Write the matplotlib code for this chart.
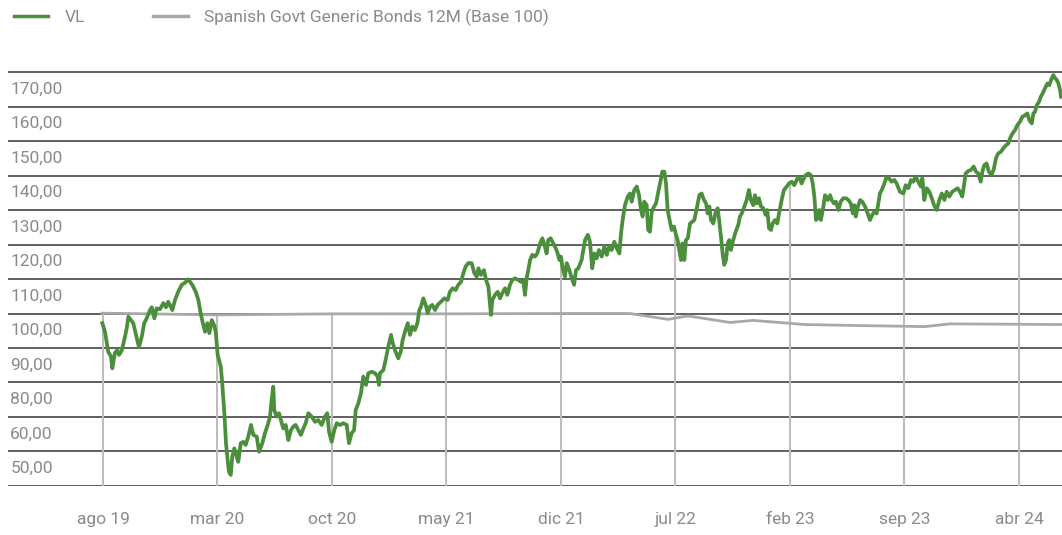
import numpy as np
import matplotlib

matplotlib.use("Agg")
import matplotlib.pyplot as plt
from matplotlib.lines import Line2D

# x values are months elapsed since August 2019
VL_MONTHS = [
    -0.04, 0.12, 0.32, 0.49, 0.57, 0.73, 0.87, 0.98, 1.14, 1.30, 1.45, 1.55, 1.71, 1.85, 2.02, 2.20,
    2.37, 2.52, 2.67, 2.87, 2.98, 3.14, 3.28, 3.48, 3.69, 3.85, 3.99, 4.24, 4.40, 4.60, 4.81, 5.01,
    5.21, 5.46, 5.67, 5.83, 5.99, 6.13, 6.24, 6.38, 6.50, 6.65, 6.79, 6.89, 7.01, 7.20, 7.29, 7.42,
    7.52, 7.62, 7.70, 7.81, 7.90, 8.03, 8.17, 8.27, 8.42, 8.58, 8.72, 8.88, 9.05, 9.19, 9.40, 9.54,
    9.74, 9.90, 10.07, 10.21, 10.31, 10.41, 10.47, 10.62, 10.76, 10.88, 11.02, 11.17, 11.33, 11.49,
    11.63, 11.78, 11.94, 12.10, 12.25, 12.39, 12.55, 12.76, 12.96, 13.16, 13.37, 13.57, 13.71, 13.82,
    13.98, 14.14, 14.29, 14.49, 14.69, 14.90, 15.04, 15.20, 15.35, 15.45, 15.61, 15.77, 15.91, 16.08,
    16.22, 16.43, 16.63, 16.79, 16.87, 16.93, 17.14, 17.30, 17.44, 17.61, 17.69, 17.85, 18.05, 18.20,
    18.32, 18.46, 18.63, 18.77, 18.91, 19.07, 19.22, 19.34, 19.44, 19.58, 19.73, 19.85, 19.99, 20.13,
    20.30, 20.46, 20.66, 20.87, 21.07, 21.21, 21.38, 21.56, 21.72, 21.89, 22.03, 22.17, 22.33, 22.54,
    22.70, 22.85, 22.95, 23.11, 23.29, 23.42, 23.56, 23.72, 23.80, 23.97, 24.13, 24.27, 24.41, 24.58,
    24.72, 24.88, 25.02, 25.19, 25.39, 25.55, 25.70, 25.80, 25.90, 26.00, 26.11, 26.25, 26.41, 26.55,
    26.72, 26.86, 27.02, 27.12, 27.22, 27.37, 27.53, 27.68, 27.80, 27.90, 28.00, 28.10, 28.24, 28.35,
    28.51, 28.66, 28.80, 28.92, 29.06, 29.26, 29.47, 29.64, 29.77, 29.91, 30.04, 30.18, 30.32, 30.49,
    30.65, 30.80, 30.94, 31.10, 31.26, 31.41, 31.57, 31.67, 31.77, 31.91, 32.08, 32.22, 32.32, 32.48,
    32.63, 32.77, 32.89, 32.99, 33.09, 33.24, 33.33, 33.44, 33.55, 33.69, 33.81, 33.95, 34.10, 34.19,
    34.32, 34.42, 34.52, 34.66, 34.77, 34.91, 35.03, 35.13, 35.23, 35.34, 35.42, 35.54, 35.64, 35.75,
    35.89, 36.03, 36.15, 36.26, 36.36, 36.46, 36.60, 36.74, 36.87, 36.97, 37.07, 37.17, 37.31, 37.46,
    37.58, 37.68, 37.78, 37.88, 37.98, 38.09, 38.19, 38.29, 38.39, 38.53, 38.68, 38.84, 38.94, 39.05,
    39.21, 39.35, 39.49, 39.61, 39.76, 39.86, 39.98, 40.10, 40.23, 40.37, 40.51, 40.61, 40.72, 40.84,
    40.94, 41.08, 41.22, 41.35, 41.49, 41.63, 41.80, 41.94, 42.10, 42.26, 42.41, 42.51, 42.61, 42.71,
    42.85, 42.96, 43.12, 43.28, 43.39, 43.49, 43.59, 43.69, 43.79, 43.89, 44.04, 44.14, 44.31, 44.45,
    44.55, 44.69, 44.81, 44.96, 45.10, 45.26, 45.43, 45.57, 45.72, 45.84, 45.94, 46.02, 46.15, 46.29,
    46.42, 46.59, 46.75, 46.89, 47.03, 47.16, 47.30, 47.40, 47.50, 47.61, 47.77, 47.91, 48.05, 48.22,
    48.38, 48.52, 48.72, 48.93, 49.07, 49.23, 49.40, 49.54, 49.68, 49.84, 49.99, 50.09, 50.21, 50.36,
    50.52, 50.67, 50.81, 50.97, 51.13, 51.28, 51.44, 51.58, 51.74, 51.92, 52.09, 52.25, 52.39, 52.53,
    52.64, 52.74, 52.90, 53.06, 53.23, 53.37, 53.51, 53.66, 53.76, 53.88, 54.02, 54.16, 54.33, 54.47,
    54.59, 54.73, 54.90, 55.04, 55.21, 55.35, 55.49, 55.61, 55.76, 55.90, 56.06, 56.20, 56.37, 56.51,
    56.63, 56.78, 56.88, 56.98, 57.09, 57.23, 57.33, 57.45, 57.59, 57.74, 57.86, 57.96, 58.10, 58.21,
    58.31, 58.41, 58.51, 58.57,
]
VL_VALUES = [
    97.2, 94.7, 88.9, 87.5, 84.1, 88.6, 89.4, 88.0, 89.2, 92.3, 95.7, 99.1, 98.1, 97.2, 93.8, 90.2,
    93.3, 97.2, 98.6, 101.0, 101.8, 98.6, 101.5, 101.2, 103.0, 101.8, 103.4, 101.0, 103.9, 106.3, 108.3, 108.9,
    109.9, 108.3, 106.3, 103.9, 99.6, 96.7, 94.7, 97.2, 94.3, 98.1, 96.7, 94.7, 88.0, 84.6, 79.8, 71.1,
    62.4, 57.5, 54.1, 53.2, 58.5, 60.9, 58.5, 57.0, 62.4, 62.8, 61.9, 64.3, 67.7, 64.8, 64.3, 59.9,
    62.4, 65.3, 67.7, 70.1, 74.9, 78.8, 72.0, 70.1, 71.1, 69.1, 66.7, 67.7, 63.3, 66.2,
    67.2, 67.7, 66.2, 64.8, 66.7, 68.2, 71.1, 70.1, 68.6, 69.1, 67.7, 70.1, 71.1, 65.7,
    62.8, 66.2, 68.2, 67.7, 68.2, 67.7, 62.4, 65.3, 66.2, 72.0, 74.0, 76.9, 81.7, 79.3,
    82.7, 83.1, 82.7, 81.7, 79.3, 82.7, 83.6, 87.0, 90.4, 93.8, 91.8, 89.4, 87.0, 88.9,
    92.3, 94.7, 97.2, 93.8, 96.2, 95.2, 97.2, 101.0, 102.0, 104.4, 102.5, 100.1, 102.0, 102.5,
    101.0, 102.5, 103.4, 104.4, 103.9, 106.3, 107.3, 106.8, 108.3, 109.2, 111.7, 113.6, 114.6, 114.6,
    111.7, 110.7, 113.1, 111.2, 112.6, 109.7, 107.8, 99.6, 103.9, 105.4, 106.3, 104.4, 105.9, 107.3,
    105.4, 108.3, 109.7, 110.2, 109.7, 109.2, 109.2, 105.4, 110.2, 112.6, 115.5, 117.0, 116.5, 117.4,
    120.3, 121.8, 119.4, 117.4, 121.3, 121.8, 120.3, 118.9, 117.4, 115.5, 116.5, 113.1, 110.7, 114.6,
    112.6, 110.2, 108.3, 112.6, 113.1, 115.5, 121.3, 122.8, 120.8, 113.1, 117.4, 116.0, 118.4, 116.5,
    119.4, 117.0, 119.4, 118.4, 120.8, 118.9, 117.4, 123.2, 127.1, 131.4, 133.9, 134.8, 132.4, 135.8,
    136.8, 134.3, 130.0, 128.1, 132.4, 131.4, 124.2, 123.7, 129.5, 131.0, 131.9, 135.3, 138.7, 141.1,
    141.1, 137.7, 130.0, 126.6, 124.2, 125.2, 122.8, 121.3, 118.4, 115.5, 120.3, 115.5, 121.3, 121.8,
    126.1, 126.6, 127.1, 129.5, 131.9, 134.3, 134.8, 132.9, 131.9, 129.0, 131.0, 127.1, 126.1, 129.5,
    130.5, 126.6, 122.3, 117.4, 114.1, 115.5, 120.3, 121.3, 118.4, 121.3, 123.7, 125.7, 128.1, 129.0,
    131.0, 132.9, 135.8, 132.9, 131.4, 134.3, 131.9, 133.4, 131.0, 130.5, 128.6, 130.0, 124.7, 124.2,
    126.1, 127.1, 126.1, 129.5, 132.9, 135.8, 136.8, 137.7, 138.2, 137.2, 138.7, 139.7, 139.2, 137.7,
    139.2, 140.1, 140.6, 140.1, 137.7, 133.9, 127.1, 127.6, 130.0, 127.1, 131.0, 134.3, 132.9, 134.3,
    132.9, 131.9, 132.4, 130.0, 132.4, 133.4, 133.4, 132.9, 131.9, 129.0, 131.4, 128.1, 131.0, 132.9,
    132.4, 131.0, 129.0, 127.1, 128.6, 129.5, 129.0, 131.9, 134.8, 135.8, 137.7, 139.7, 139.2, 138.2,
    138.7, 137.7, 135.3, 134.8, 137.2, 136.3, 138.7, 138.2, 139.7, 138.2, 136.8, 139.2, 132.9, 136.3,
    135.3, 133.4, 131.4, 130.0, 132.9, 134.8, 132.9, 135.3, 133.9, 135.3, 135.8, 136.3, 135.3, 133.9,
    137.2, 140.6, 141.3, 141.6, 142.6, 141.1, 140.6, 138.2, 141.1, 143.0, 143.5, 141.1, 140.1, 142.1,
    145.0, 146.4, 146.9, 147.9, 148.8, 149.3, 151.2, 152.2, 153.2, 154.6, 155.6, 157.0, 157.5, 158.0,
    156.1, 155.1, 158.0, 158.5, 160.4, 161.4, 162.8, 163.8, 165.3, 166.7, 166.2, 167.7, 169.1, 168.2,
    167.7, 166.7, 164.8, 162.8,
]

BENCH_MONTHS = [-0.06, 6.97, 14.06, 20.97, 28.06, 32.22, 34.54, 35.76, 38.33, 39.74, 42.92, 46.28, 50.25, 51.78, 58.63]
BENCH_VALUES = [100.1, 99.6, 99.9, 99.9, 100.0, 100.0, 98.3, 99.3, 97.4, 98.0, 96.8, 96.5, 96.2, 97.0, 96.8]

TICK_MONTHS = [0, 7, 14, 21, 28, 35, 42, 49, 56]
TICK_LABELS = ["ago 19", "mar 20", "oct 20", "may 21", "dic 21", "jul 22", "feb 23", "sep 23", "abr 24"]

GRID_VALUES = [170, 160, 150, 140, 130, 120, 110, 100, 90, 80, 70, 60, 50]
# labels as printed in the source chart (one per band, under each grid line)
Y_LABELS = ["170,00", "160,00", "150,00", "140,00", "130,00", "120,00", "110,00",
            "100,00", "90,00", "80,00", "60,00", "50,00"]

GREEN = "#4b8e3b"
BENCH_GRAY = "#a8a8a8"
TEXT_GRAY = "#8a8a8a"

plt.rcParams["font.family"] = ["Roboto", "DejaVu Sans"]

fig = plt.figure(figsize=(10.62, 5.35), dpi=100)
ax = fig.add_axes([0.0075, 0.0916, 0.9925, 0.7867])
ax.set_xlim(-5.81, 58.63)
ax.set_ylim(50, 172)
ax.axis("off")

for v in GRID_VALUES:
    ax.axhline(v, color="#444444", lw=1.2, zorder=1)

for v, lab in zip(GRID_VALUES, Y_LABELS):
    ax.text(-5.67, v - 5, lab, ha="left", va="center", fontsize=12.5,
            color=TEXT_GRAY, zorder=5)

# drop lines at each tick, up to the higher of the two series
vl_at = np.interp(TICK_MONTHS, VL_MONTHS, VL_VALUES)
bench_at = np.interp(TICK_MONTHS, BENCH_MONTHS, BENCH_VALUES)
ax.vlines(TICK_MONTHS, 50, np.maximum(vl_at, bench_at), color="#bdbdbd", lw=1.5, zorder=2)

ax.plot(BENCH_MONTHS, BENCH_VALUES, color=BENCH_GRAY, lw=2.0, zorder=3)
ax.plot(VL_MONTHS, VL_VALUES, color=GREEN, lw=2.7, zorder=4, solid_joinstyle="round")

for m, lab in zip(TICK_MONTHS, TICK_LABELS):
    ax.text(m, 40.3, lab, ha="center", va="center", fontsize=12.5,
            color=TEXT_GRAY, clip_on=False)

handles = [Line2D([], [], color=GREEN, lw=2.5), Line2D([], [], color=BENCH_GRAY, lw=2.5)]
fig.legend(handles, ["VL", "Spanish Govt Generic Bonds 12M (Base 100)"],
           loc="center left", bbox_to_anchor=(0.008, 0.968), ncol=2, frameon=False,
           handlelength=2.0, handletextpad=0.95, columnspacing=3.9,
           labelcolor=TEXT_GRAY, borderpad=0.3, borderaxespad=0.0, prop={"size": 12.5})

fig.savefig("out.png", dpi=100)
